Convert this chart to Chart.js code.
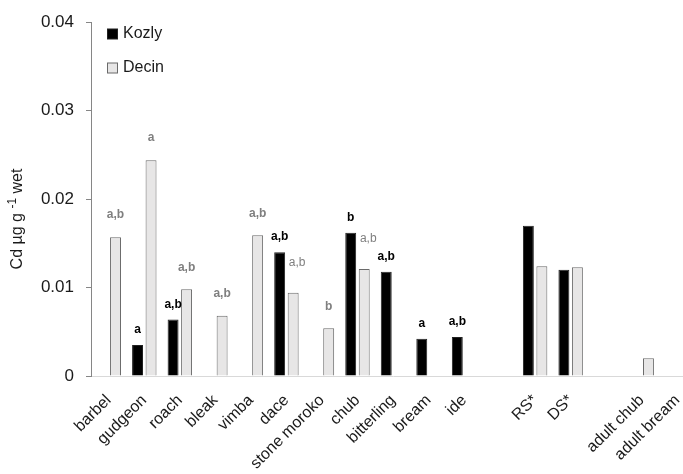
<!DOCTYPE html>
<html>
<head>
<meta charset="utf-8">
<script src="https://cdn.jsdelivr.net/npm/chart.js@4.4.1/dist/chart.umd.min.js"></script>
<style>
  html, body { margin: 0; padding: 0; background: #fff; overflow: hidden; }
  #wrap { width: 700px; height: 474px; }
</style>
</head>
<body>
<div id="wrap"><canvas id="c" width="700" height="474"></canvas></div>
<script>
// Species (blank entries separate the groups on the axis)
const categories = ['barbel', 'gudgeon', 'roach', 'bleak', 'vimba', 'dace', 'stone moroko',
  'chub', 'bitterling', 'bream', 'ide', '', 'RS*', 'DS*', '', 'adult chub', 'adult bream'];

// Cd concentration, µg g-1 wet weight
const kozly = [null, 0.0035, 0.0064, null, null, 0.0140, null, 0.0162, 0.0118, 0.0042, 0.0044,
  null, 0.0170, 0.0120, null, null, null];
const decin = [0.0157, 0.0244, 0.0098, 0.0068, 0.0159, 0.0094, 0.0054, 0.0121, null, null, null,
  null, 0.0124, 0.0123, null, 0.0020, null];

// Significance letters above the bars
const kozlyLetters = ['', 'a', 'a,b', '', '', 'a,b', '', 'b', 'a,b', 'a', 'a,b', '', '', '', '', '', ''];
const decinLetters = ['a,b', 'a', 'a,b', 'a,b', 'a,b', 'a,b', 'b', 'a,b', '', '', '', '', '', '', '', '', ''];

const yTickLabels = ['0', '0.01', '0.02', '0.03', '0.04'];

const FONT = "'Liberation Sans', Arial, sans-serif";

// Draws the letters over each bar
const letterPlugin = {
  id: 'letters',
  afterDatasetsDraw(chart) {
    const ctx = chart.ctx;
    ctx.save();
    ctx.textAlign = 'center';
    ctx.textBaseline = 'middle';
    chart.data.datasets.forEach((ds, di) => {
      const meta = chart.getDatasetMeta(di);
      ds.letters.forEach((txt, i) => {
        if (!txt) return;
        const el = meta.data[i];
        let x = el.x, y = el.y - ds.letterGap;
        // keep the Decin letter clear of a taller Kozly bar beside it
        if (di === 1 && kozly[i] !== null && kozly[i] > decin[i] + 0.002) {
          x += 4; y -= 8;
          ctx.font = '12px ' + FONT;
        } else {
          ctx.font = 'bold 12px ' + FONT;
        }
        ctx.fillStyle = ds.letterColor;
        ctx.fillText(txt, x, y);
      });
    });
    ctx.restore();
  }
};

// Legend inside the plot, top-left, stacked vertically
const legendPlugin = {
  id: 'insideLegend',
  afterDraw(chart) {
    const ctx = chart.ctx;
    ctx.save();
    ctx.font = '16px ' + FONT;
    ctx.textBaseline = 'middle';
    chart.data.datasets.forEach((ds, di) => {
      const cy = 34 + di * 34;
      ctx.fillStyle = ds.backgroundColor;
      ctx.fillRect(107.5, cy - 5, 10, 10);
      ctx.strokeStyle = ds.borderColor;
      ctx.lineWidth = 1;
      ctx.strokeRect(107.5, cy - 5, 10, 10);
      ctx.fillStyle = '#1a1a1a';
      ctx.fillText(ds.label, 123, cy);
    });
    ctx.restore();
  }
};

// Rotated y-axis title with superscript exponent
const yTitlePlugin = {
  id: 'yTitle',
  afterDraw(chart) {
    const ctx = chart.ctx;
    ctx.save();
    ctx.translate(18, 219);
    ctx.rotate(-Math.PI / 2);
    ctx.fillStyle = '#1a1a1a';
    ctx.textBaseline = 'middle';
    const main = '16px ' + FONT, sup = '12px ' + FONT;
    const parts = [['Cd µg g ', main, 0], ['-1', sup, -5], [' wet', main, 0]];
    let total = 0;
    parts.forEach(p => { ctx.font = p[1]; total += ctx.measureText(p[0]).width; });
    let x = -total / 2;
    parts.forEach(p => {
      ctx.font = p[1];
      ctx.fillText(p[0], x, p[2]);
      x += ctx.measureText(p[0]).width;
    });
    ctx.restore();
  }
};

new Chart(document.getElementById('c'), {
  type: 'bar',
  data: {
    labels: categories,
    datasets: [
      {
        label: 'Kozly', data: kozly, letters: kozlyLetters, letterColor: '#000000', letterGap: 15,
        backgroundColor: '#000000', borderColor: '#222222', borderWidth: 1,
        categoryPercentage: 0.76, barPercentage: 0.81
      },
      {
        label: 'Decin', data: decin, letters: decinLetters, letterColor: '#7f7f7f', letterGap: 22,
        backgroundColor: '#e7e6e6', borderColor: '#6a6a6a', borderWidth: 1,
        categoryPercentage: 0.76, barPercentage: 0.81
      }
    ]
  },
  options: {
    responsive: false,
    animation: false,
    devicePixelRatio: 1,
    layout: { padding: { top: 20, right: 5, left: 0, bottom: 0 } },
    plugins: { legend: { display: false }, tooltip: { enabled: false } },
    scales: {
      x: {
        offset: true,
        grid: { display: false, drawTicks: false },
        border: { display: true, color: '#d9d9d9', width: 1 },
        ticks: {
          autoSkip: false, maxRotation: 45, minRotation: 45, padding: 15,
          color: '#1a1a1a', font: { family: FONT, size: 16 }
        },
        afterFit(scale) {
          scale.height = 98;
          scale.paddingLeft = 0;
          scale.paddingRight = 0;
        }
      },
      y: {
        min: 0, max: 0.04,
        grid: { drawOnChartArea: false, drawTicks: true, tickLength: 5, color: '#868686' },
        border: { display: true, color: '#868686', width: 1 },
        ticks: {
          stepSize: 0.01, padding: 12, color: '#1a1a1a',
          font: { family: FONT, size: 17 },
          callback: (v, i) => yTickLabels[i]
        },
        afterFit(scale) { scale.width = 91; }
      }
    }
  },
  plugins: [letterPlugin, legendPlugin, yTitlePlugin]
});
</script>
</body>
</html>
